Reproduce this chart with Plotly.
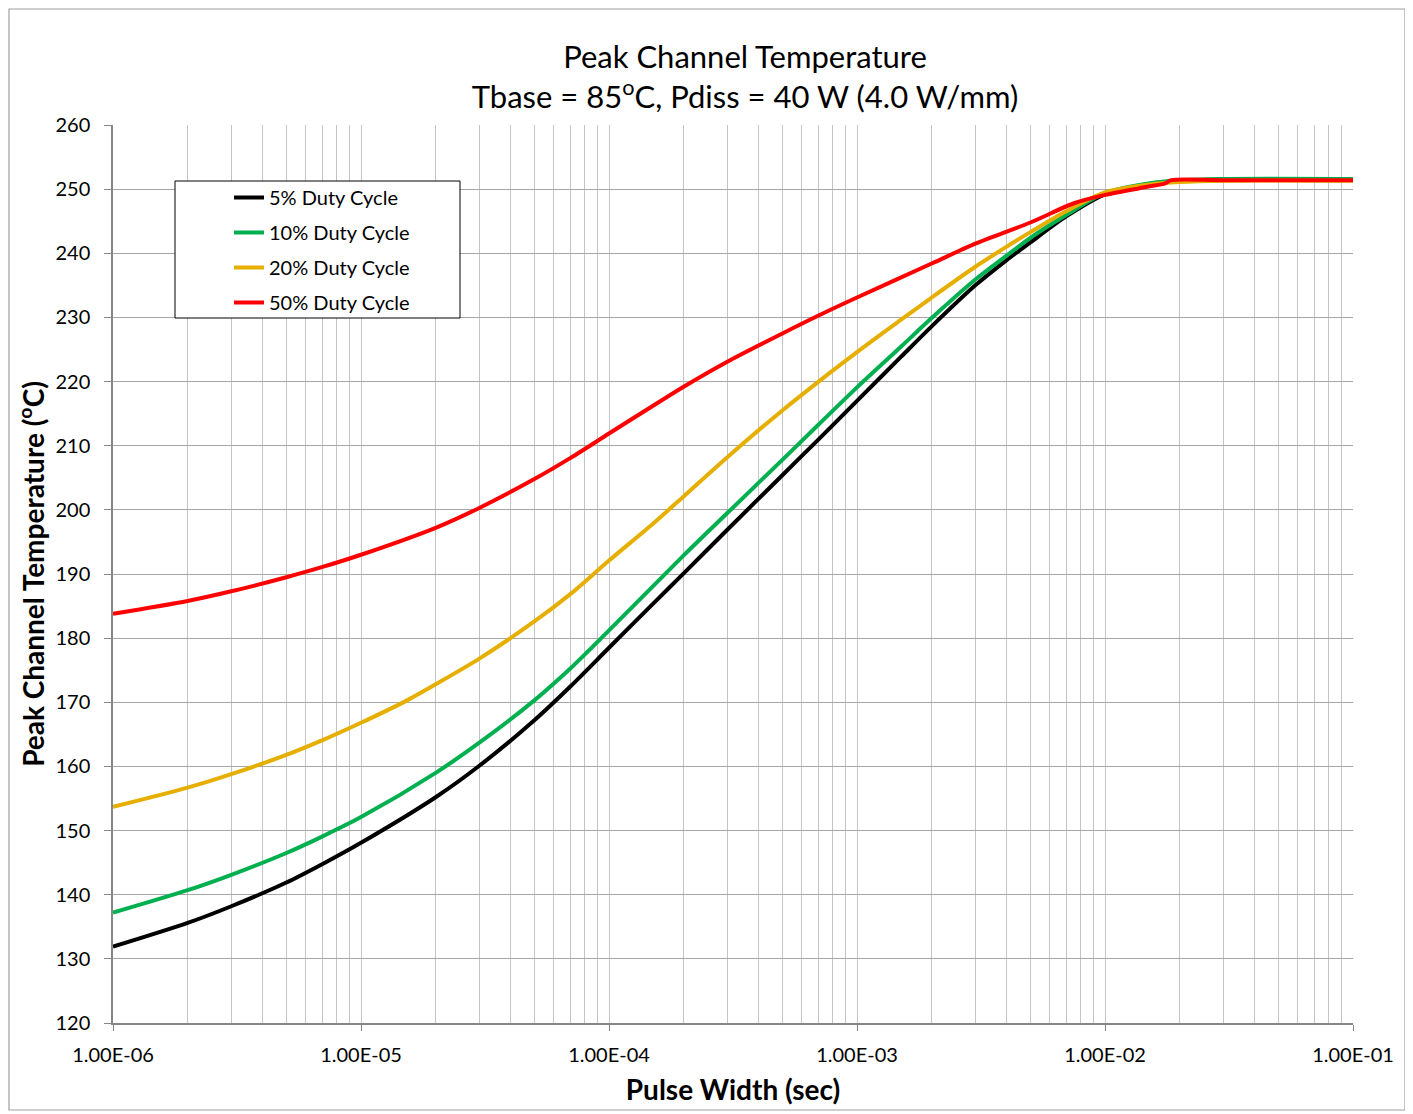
import plotly.graph_objects as go

# ---- data ----
t_black = [1e-6, 2e-6, 3e-6, 5e-6, 7e-6, 1e-5, 2e-5, 3e-5, 5e-5, 7e-5, 1e-4, 1.5e-4, 2e-4, 3e-4,
           5e-4, 7e-4, 1e-3, 1.5e-3, 2e-3, 3e-3, 4e-3, 5e-3, 7e-3, 1e-2, 1.5e-2, 2e-2, 3e-2, 1e-1]
T_black = [131.9, 135.6, 138.2, 141.9, 144.8, 148.1, 155.2, 160.1, 167.2, 172.5, 178.5, 185.3, 190.1, 196.9,
           205.4, 211.0, 217.0, 223.8, 228.6, 235.0, 238.9, 241.7, 245.8, 249.2, 250.8, 251.3, 251.5, 251.6]

t_green = [1e-6, 2e-6, 3e-6, 5e-6, 7e-6, 1e-5, 2e-5, 3e-5, 5e-5, 7e-5, 1e-4, 2e-4, 3e-4,
           5e-4, 7e-4, 1e-3, 1.5e-3, 2e-3, 3e-3, 4e-3, 5e-3, 7e-3, 1e-2, 1.5e-2, 2e-2, 3e-2, 1e-1]
T_green = [137.2, 140.7, 143.1, 146.5, 149.1, 152.1, 159.0, 163.7, 170.3, 175.3, 181.2, 192.9, 199.5,
           207.8, 213.3, 219.1, 225.4, 229.9, 235.9, 239.6, 242.4, 246.0, 249.4, 250.9, 251.4, 251.6, 251.6]

t_yellow = [1e-6, 2e-6, 3e-6, 5e-6, 7e-6, 1e-5, 1.5e-5, 2e-5, 3e-5, 5e-5, 7e-5, 1e-4, 1.5e-4, 2e-4, 3e-4,
            5e-4, 7e-4, 1e-3, 1.5e-3, 2e-3, 3e-3, 4e-3, 5e-3, 7e-3, 1e-2, 1.5e-2, 2e-2, 3e-2, 1e-1]
T_yellow = [153.7, 156.7, 158.8, 161.8, 164.1, 166.8, 170.1, 172.8, 176.8, 182.6, 186.9, 192.1, 197.8, 202.1, 208.2,
            215.5, 220.0, 224.6, 229.6, 233.1, 237.9, 241.0, 243.3, 246.6, 249.5, 250.7, 251.1, 251.3, 251.3]

t_red = [1e-6, 2e-6, 3e-6, 5e-6, 7e-6, 1e-5, 2e-5, 3e-5, 5e-5, 7e-5, 1e-4, 1.5e-4, 2e-4, 3e-4,
         5e-4, 7e-4, 1e-3, 2e-3, 3e-3, 5e-3, 7.5e-3, 1e-2, 1.5e-2, 1.75e-2, 1.85e-2, 3e-2, 1e-1]
T_red = [183.8, 185.8, 187.3, 189.5, 191.1, 193.0, 197.2, 200.3, 204.8, 208.1, 211.9, 216.2, 219.2, 223.1,
         227.5, 230.3, 233.1, 238.4, 241.5, 244.8, 247.8, 249.1, 250.4, 250.9, 251.4, 251.4, 251.4]

series_names = ["5% Duty Cycle", "10% Duty Cycle", "20% Duty Cycle", "50% Duty Cycle"]
series_colors = ["#000000", "#00B050", "#E6AF00", "#FF0000"]

x_tick_vals = [1e-6, 1e-5, 1e-4, 1e-3, 1e-2, 1e-1]
x_tick_text = ["1.00E-06", "1.00E-05", "1.00E-04", "1.00E-03", "1.00E-02", "1.00E-01"]

FONT = "Lato"

# page body has an 8px margin, so the figure is sized to fit the 1413x1114 window
W, H = 1405, 1106
OFF = 8
PL, PR, PT, PB = 113, 1353, 125, 1023  # plot area in window pixels


def px_x(ax):
    return (ax - PL) / (PR - PL)


def px_y(ay):
    return (PB - ay) / (PB - PT)


fig = go.Figure()
for i, (tx, ty) in enumerate([(t_black, T_black), (t_green, T_green), (t_yellow, T_yellow), (t_red, T_red)]):
    fig.add_trace(go.Scatter(
        x=tx, y=ty, mode="lines", name=series_names[i], legendgroup=f"g{i}",
        line=dict(color=series_colors[i], width=4, shape="spline", smoothing=0.8),
    ))

minor_vals = [m * d for d in x_tick_vals[:-1] for m in range(2, 10)]

fig.update_xaxes(
    type="log", range=[-6, -1],
    tickmode="array", tickvals=x_tick_vals, ticktext=x_tick_text,
    ticks="outside", ticklen=6, tickcolor="#868686", ticklabelstandoff=7,
    showline=True, linecolor="#868686", linewidth=1.5,
    showgrid=True, gridcolor="#c4c4c4", gridwidth=1.3,
    minor=dict(tickmode="array", tickvals=minor_vals, showgrid=True, gridcolor="#c4c4c4", gridwidth=1.3, ticks=""),
    tickfont=dict(family=FONT, size=20, color="black"),
    title=dict(text="<b>Pulse Width (sec)</b>", font=dict(family=FONT, size=28, color="black"), standoff=16),
    zeroline=False,
)
fig.update_yaxes(
    range=[120, 260], dtick=10, tick0=120,
    ticks="outside", ticklen=7, tickcolor="#868686", ticklabelstandoff=10,
    showline=True, linecolor="#868686", linewidth=1.5,
    showgrid=True, gridcolor="#a6a6a6", gridwidth=1.3,
    tickfont=dict(family=FONT, size=20, color="black"),
    title=dict(text="<b>Peak Channel Temperature (<sup>o</sup>C)</b>", font=dict(family=FONT, size=28, color="black"), standoff=3),
    zeroline=False,
)

# outer chart border and legend frame
fig.add_shape(type="rect", xref="paper", yref="paper", x0=px_x(OFF + 1), x1=px_x(1405), y0=px_y(1110), y1=px_y(OFF + 1),
              line=dict(color="#a0a0a0", width=1.2), fillcolor="rgba(0,0,0,0)", layer="below")
fig.add_shape(type="rect", xref="paper", yref="paper", x0=px_x(175), x1=px_x(460),
              y0=px_y(318), y1=px_y(181),
              line=dict(color="black", width=1), fillcolor="white", layer="above")

fig.update_layout(
    width=W, height=H,
    margin=dict(l=PL - OFF, r=W - (PR - OFF), t=PT - OFF, b=H - (PB - OFF)),
    paper_bgcolor="white", plot_bgcolor="white",
    title=dict(text="Peak Channel Temperature<br>Tbase = 85<sup>o</sup>C, Pdiss = 40 W (4.0 W/mm)",
               x=(745 - OFF) / W, xanchor="center", y=1 - (68 - OFF) / H, yanchor="middle",
               font=dict(family=FONT, size=31, color="black")),
    legend=dict(x=px_x(229), y=px_y(178), xanchor="left", yanchor="top",
                bgcolor="rgba(0,0,0,0)", borderwidth=0, tracegroupgap=6,
                font=dict(family=FONT, size=20, color="black")),
    showlegend=True,
)

fig.write_html("out.html")
